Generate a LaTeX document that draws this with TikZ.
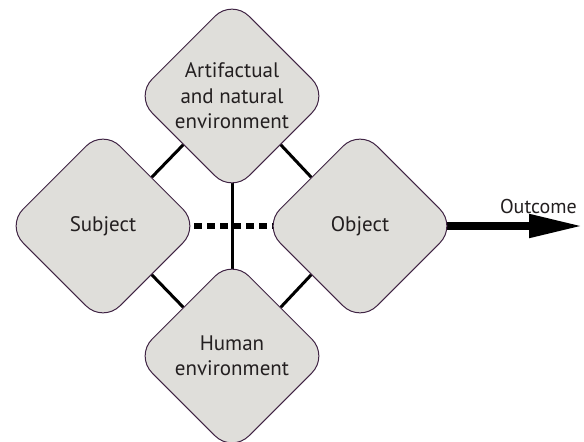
\documentclass[tikz,border=0pt]{standalone}
\usepackage{fontspec}
\setmainfont{PT Sans}
\usetikzlibrary{shapes.geometric,arrows.meta,backgrounds}
\definecolor{envfill}{RGB}{223,222,218}
\definecolor{envdraw}{RGB}{64,36,68}
\definecolor{envtext}{RGB}{35,31,32}
\begin{document}
\begin{tikzpicture}[x=1pt,y=-1pt,
  env/.style={diamond,draw=envdraw,fill=envfill,line width=1pt,
    rounded corners=24pt,minimum size=194pt,inner sep=0pt,align=center,
    text=envtext,font=\fontsize{21}{25.5}\selectfont},
  link/.style={line width=3pt,black},
  dashlink/.style={line width=5.5pt,black,dash pattern=on 8pt off 5pt}]
\useasboundingbox (0,0) rectangle (584,442);
% the four diamonds
\node[env] (artifact) at (232,96) {Artifactual\\and natural\\environment};
\node[env] (subject) at (103,226) {Subject};
\node[env] (object) at (360,226) {Object};
\node[env] (human) at (232,356) {Human\\environment};
\coordinate (outend) at (583,226);
% connectors behind the diamonds
\begin{scope}[on background layer]
\draw[link] (artifact.south west) -- (subject.north east);
\draw[link] (artifact.south east) -- (object.north west);
\draw[link] (human.north west) -- (subject.south east);
\draw[link] (human.north east) -- (object.south west);
\draw[link] (artifact.center) -- (human.center);
\draw[dashlink] (subject.center) -- (object.center);
\draw[line width=8pt,-{Triangle[length=54pt,width=22pt]}] (object.center) -- (outend)
  node[pos=0.8,above=5pt,text=envtext,font=\fontsize{20}{24}\selectfont] (outcome) {Outcome};
\end{scope}
\end{tikzpicture}
\end{document}
